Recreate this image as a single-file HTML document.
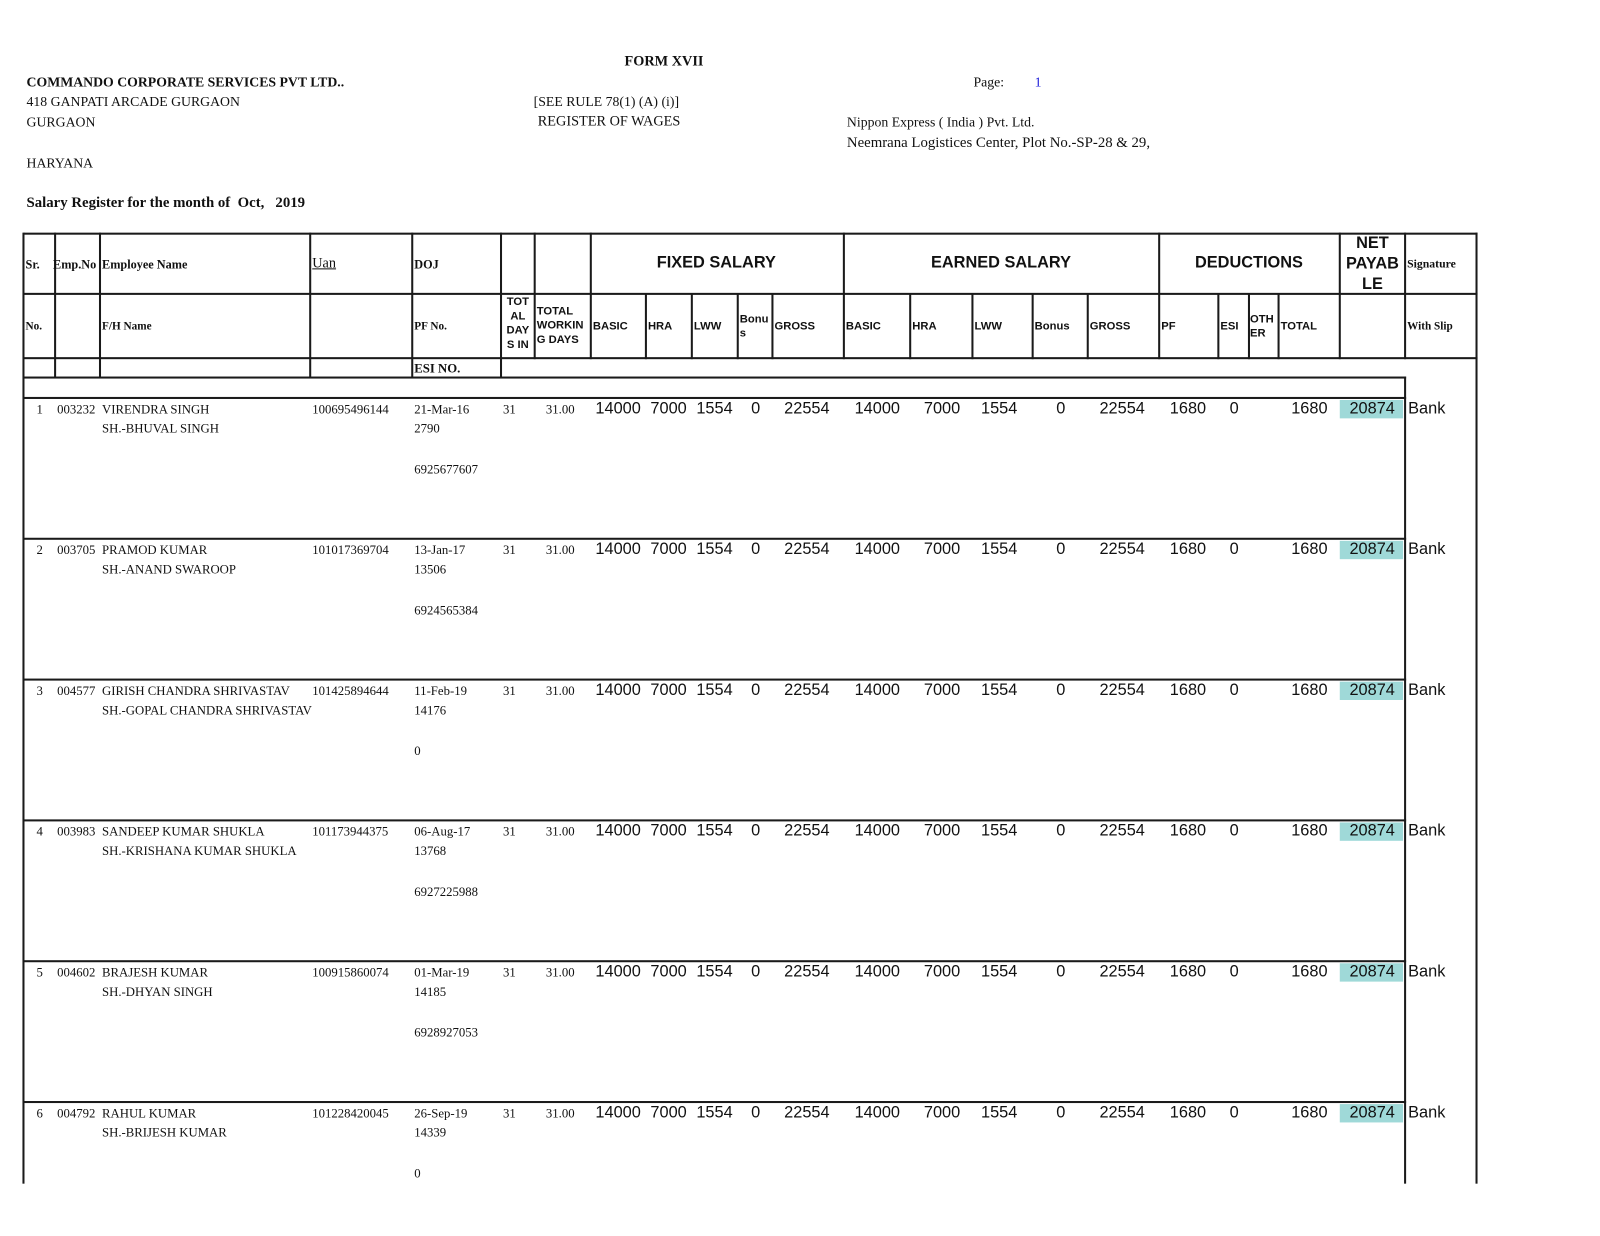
<!DOCTYPE html>
<html><head><meta charset="utf-8"><style>
body{margin:0;background:#fff;}
#o{position:relative;width:1600px;height:1236px;overflow:hidden;background:#fff;}
#p{position:absolute;left:0;top:0;width:1600px;height:1236px;transform:scale(1.0204);transform-origin:0 0;font-family:"Liberation Serif",serif;color:#111;}
#p div{position:absolute;}
.t{font-size:13.5px;line-height:18px;white-space:nowrap;}
.b{font-weight:bold;}
.h{font-family:"Liberation Sans",sans-serif;font-weight:bold;font-size:11px;line-height:14px;white-space:nowrap;}
.H{font-family:"Liberation Sans",sans-serif;font-weight:bold;font-size:16px;line-height:20px;white-space:nowrap;text-align:center;}
.hl{background:#1a1a1a;height:2px;}
.vl{background:#1a1a1a;width:2px;}
.n{font-family:"Liberation Sans",sans-serif;font-size:16px;line-height:18px;white-space:nowrap;text-align:right;}
.sm{font-size:12.5px;line-height:18px;white-space:nowrap;}
</style></head><body><div id="o"><div id="p">
<div class="t b" style="left:612px;top:52px;font-size:14px">FORM XVII</div>
<div class="t b" style="left:26px;top:72px">COMMANDO CORPORATE SERVICES PVT LTD..</div>
<div class="t" style="left:954px;top:72px">Page:</div>
<div class="t" style="left:1014px;top:72px;color:#1a1ad8">1</div>
<div class="t" style="left:26px;top:91px">418 GANPATI ARCADE GURGAON</div>
<div class="t" style="left:523px;top:91px">[SEE RULE 78(1) (A) (i)]</div>
<div class="t" style="left:26px;top:111px">GURGAON</div>
<div class="t" style="left:527px;top:111px;font-size:14px">REGISTER OF WAGES</div>
<div class="t" style="left:830px;top:111px">Nippon Express ( India ) Pvt. Ltd.</div>
<div class="t" style="left:830px;top:131px;font-size:14.5px">Neemrana Logistices Center, Plot No.-SP-28 &amp; 29,</div>
<div class="t" style="left:26px;top:151px">HARYANA</div>
<div class="t b" style="left:26px;top:190px;font-size:14.5px">Salary Register for the month of&nbsp; Oct,&nbsp;&nbsp; 2019</div>

<div class="hl" style="left:23px;top:228px;width:1425px"></div>
<div class="hl" style="left:23px;top:287px;width:1425px"></div>
<div class="hl" style="left:23px;top:350px;width:1425px"></div>
<div class="hl" style="left:23px;top:369px;width:1355px"></div>
<div class="hl" style="left:23px;top:389px;width:1355px"></div>
<div class="vl" style="left:22px;top:228px;height:932px"></div>
<div class="vl" style="left:1446px;top:228px;height:932px"></div>
<div class="vl" style="left:1376px;top:228px;height:124px"></div>
<div class="vl" style="left:1376px;top:369px;height:791px"></div>
<div class="vl" style="left:53px;top:228px;height:142px"></div>
<div class="vl" style="left:97px;top:228px;height:142px"></div>
<div class="vl" style="left:303px;top:228px;height:142px"></div>
<div class="vl" style="left:403px;top:228px;height:142px"></div>
<div class="vl" style="left:490px;top:228px;height:142px"></div>
<div class="vl" style="left:523px;top:228px;height:124px"></div>
<div class="vl" style="left:578px;top:228px;height:124px"></div>
<div class="vl" style="left:826px;top:228px;height:124px"></div>
<div class="vl" style="left:1135px;top:228px;height:124px"></div>
<div class="vl" style="left:1312px;top:228px;height:124px"></div>
<div class="vl" style="left:632px;top:288px;height:64px"></div>
<div class="vl" style="left:677px;top:288px;height:64px"></div>
<div class="vl" style="left:722px;top:288px;height:64px"></div>
<div class="vl" style="left:756px;top:288px;height:64px"></div>
<div class="vl" style="left:891px;top:288px;height:64px"></div>
<div class="vl" style="left:952px;top:288px;height:64px"></div>
<div class="vl" style="left:1011px;top:288px;height:64px"></div>
<div class="vl" style="left:1065px;top:288px;height:64px"></div>
<div class="vl" style="left:1193px;top:288px;height:64px"></div>
<div class="vl" style="left:1223px;top:288px;height:64px"></div>
<div class="vl" style="left:1252px;top:288px;height:64px"></div>

<div class="t b" style="left:25px;top:250px;font-size:12px">Sr.</div>
<div class="t b" style="left:52px;top:250px;font-size:12px">Emp.No</div>
<div class="t b" style="left:100px;top:250px;font-size:12px">Employee Name</div>
<div class="t" style="left:306px;top:250px;font-size:14px;text-decoration:underline">Uan</div>
<div class="t b" style="left:406px;top:250px;font-size:12px">DOJ</div>
<div class="H" style="left:578px;top:248px;width:248px">FIXED SALARY</div>
<div class="H" style="left:826px;top:248px;width:310px">EARNED SALARY</div>
<div class="H" style="left:1135px;top:248px;width:178px">DEDUCTIONS</div>
<div class="H" style="left:1312px;top:229px;width:66px;line-height:20px">NET<br>PAYAB<br>LE</div>
<div class="t b" style="left:1379px;top:250px;font-size:11.5px">Signature</div>

<div class="t b" style="left:25px;top:311px;font-size:11px">No.</div>
<div class="t b" style="left:100px;top:311px;font-size:11px">F/H Name</div>
<div class="t b" style="left:406px;top:311px;font-size:11px">PF No.</div>
<div class="h" style="left:492px;top:289px;width:31px;text-align:center">TOT<br>AL<br>DAY<br>S IN</div>
<div class="h" style="left:526px;top:298px">TOTAL<br>WORKIN<br>G DAYS</div>
<div class="h" style="left:581px;top:313px">BASIC</div>
<div class="h" style="left:635px;top:313px">HRA</div>
<div class="h" style="left:680px;top:313px">LWW</div>
<div class="h" style="left:725px;top:306px">Bonu<br>s</div>
<div class="h" style="left:759px;top:313px">GROSS</div>
<div class="h" style="left:829px;top:313px">BASIC</div>
<div class="h" style="left:894px;top:313px">HRA</div>
<div class="h" style="left:955px;top:313px">LWW</div>
<div class="h" style="left:1014px;top:313px">Bonus</div>
<div class="h" style="left:1068px;top:313px">GROSS</div>
<div class="h" style="left:1138px;top:313px">PF</div>
<div class="h" style="left:1196px;top:313px">ESI</div>
<div class="h" style="left:1225px;top:306px">OTH<br>ER</div>
<div class="h" style="left:1255px;top:313px">TOTAL</div>
<div class="t b" style="left:1379px;top:311px;font-size:11px">With Slip</div>
<div class="t b" style="left:406px;top:352px;font-size:12.5px">ESI NO.</div>

<div class="hl" style="left:23px;top:527px;width:1355px"></div>
<div class="hl" style="left:23px;top:665px;width:1355px"></div>
<div class="hl" style="left:23px;top:803px;width:1355px"></div>
<div class="hl" style="left:23px;top:941px;width:1355px"></div>
<div class="hl" style="left:23px;top:1079px;width:1355px"></div>

<!-- ROW 1 -->
<div class="sm" style="right:1558px;top:392px">1</div>
<div class="sm" style="left:56px;top:392px">003232</div>
<div class="sm" style="left:100px;top:392px">VIRENDRA SINGH</div>
<div class="sm" style="left:100px;top:411px">SH.-BHUVAL SINGH</div>
<div class="sm" style="left:306px;top:392px">100695496144</div>
<div class="sm" style="left:406px;top:392px">21-Mar-16</div>
<div class="sm" style="left:406px;top:411px">2790</div>
<div class="sm" style="left:406px;top:451px">6925677607</div>
<div class="sm" style="left:493px;top:392px">31</div>
<div class="sm" style="left:535px;top:392px">31.00</div>
<div style="left:1313px;top:392px;width:62px;height:18px;background:#9fd9d8"></div>
<div class="n" style="left:560px;top:392px;width:68px">14000</div>
<div class="n" style="left:620px;top:392px;width:53px">7000</div>
<div class="n" style="left:670px;top:392px;width:48px">1554</div>
<div class="n" style="left:725px;top:392px;width:20px">0</div>
<div class="n" style="left:760px;top:392px;width:53px">22554</div>
<div class="n" style="left:830px;top:392px;width:52px">14000</div>
<div class="n" style="left:890px;top:392px;width:51px">7000</div>
<div class="n" style="left:950px;top:392px;width:47px">1554</div>
<div class="n" style="left:1020px;top:392px;width:24px">0</div>
<div class="n" style="left:1070px;top:392px;width:52px">22554</div>
<div class="n" style="left:1140px;top:392px;width:42px">1680</div>
<div class="n" style="left:1195px;top:392px;width:19px">0</div>
<div class="n" style="left:1255px;top:392px;width:46px">1680</div>
<div class="n" style="left:1313px;top:392px;width:54px">20874</div>
<div class="n" style="left:1380px;top:392px;text-align:left">Bank</div>

<!-- ROW 2 -->
<div class="sm" style="right:1558px;top:530px">2</div>
<div class="sm" style="left:56px;top:530px">003705</div>
<div class="sm" style="left:100px;top:530px">PRAMOD KUMAR</div>
<div class="sm" style="left:100px;top:549px">SH.-ANAND SWAROOP</div>
<div class="sm" style="left:306px;top:530px">101017369704</div>
<div class="sm" style="left:406px;top:530px">13-Jan-17</div>
<div class="sm" style="left:406px;top:549px">13506</div>
<div class="sm" style="left:406px;top:589px">6924565384</div>
<div class="sm" style="left:493px;top:530px">31</div>
<div class="sm" style="left:535px;top:530px">31.00</div>
<div style="left:1313px;top:530px;width:62px;height:18px;background:#9fd9d8"></div>
<div class="n" style="left:560px;top:530px;width:68px">14000</div>
<div class="n" style="left:620px;top:530px;width:53px">7000</div>
<div class="n" style="left:670px;top:530px;width:48px">1554</div>
<div class="n" style="left:725px;top:530px;width:20px">0</div>
<div class="n" style="left:760px;top:530px;width:53px">22554</div>
<div class="n" style="left:830px;top:530px;width:52px">14000</div>
<div class="n" style="left:890px;top:530px;width:51px">7000</div>
<div class="n" style="left:950px;top:530px;width:47px">1554</div>
<div class="n" style="left:1020px;top:530px;width:24px">0</div>
<div class="n" style="left:1070px;top:530px;width:52px">22554</div>
<div class="n" style="left:1140px;top:530px;width:42px">1680</div>
<div class="n" style="left:1195px;top:530px;width:19px">0</div>
<div class="n" style="left:1255px;top:530px;width:46px">1680</div>
<div class="n" style="left:1313px;top:530px;width:54px">20874</div>
<div class="n" style="left:1380px;top:530px;text-align:left">Bank</div>

<!-- ROW 3 -->
<div class="sm" style="right:1558px;top:668px">3</div>
<div class="sm" style="left:56px;top:668px">004577</div>
<div class="sm" style="left:100px;top:668px">GIRISH CHANDRA SHRIVASTAV</div>
<div class="sm" style="left:100px;top:687px">SH.-GOPAL CHANDRA SHRIVASTAV</div>
<div class="sm" style="left:306px;top:668px">101425894644</div>
<div class="sm" style="left:406px;top:668px">11-Feb-19</div>
<div class="sm" style="left:406px;top:687px">14176</div>
<div class="sm" style="left:406px;top:727px">0</div>
<div class="sm" style="left:493px;top:668px">31</div>
<div class="sm" style="left:535px;top:668px">31.00</div>
<div style="left:1313px;top:668px;width:62px;height:18px;background:#9fd9d8"></div>
<div class="n" style="left:560px;top:668px;width:68px">14000</div>
<div class="n" style="left:620px;top:668px;width:53px">7000</div>
<div class="n" style="left:670px;top:668px;width:48px">1554</div>
<div class="n" style="left:725px;top:668px;width:20px">0</div>
<div class="n" style="left:760px;top:668px;width:53px">22554</div>
<div class="n" style="left:830px;top:668px;width:52px">14000</div>
<div class="n" style="left:890px;top:668px;width:51px">7000</div>
<div class="n" style="left:950px;top:668px;width:47px">1554</div>
<div class="n" style="left:1020px;top:668px;width:24px">0</div>
<div class="n" style="left:1070px;top:668px;width:52px">22554</div>
<div class="n" style="left:1140px;top:668px;width:42px">1680</div>
<div class="n" style="left:1195px;top:668px;width:19px">0</div>
<div class="n" style="left:1255px;top:668px;width:46px">1680</div>
<div class="n" style="left:1313px;top:668px;width:54px">20874</div>
<div class="n" style="left:1380px;top:668px;text-align:left">Bank</div>

<!-- ROW 4 -->
<div class="sm" style="right:1558px;top:806px">4</div>
<div class="sm" style="left:56px;top:806px">003983</div>
<div class="sm" style="left:100px;top:806px">SANDEEP KUMAR SHUKLA</div>
<div class="sm" style="left:100px;top:825px">SH.-KRISHANA KUMAR SHUKLA</div>
<div class="sm" style="left:306px;top:806px">101173944375</div>
<div class="sm" style="left:406px;top:806px">06-Aug-17</div>
<div class="sm" style="left:406px;top:825px">13768</div>
<div class="sm" style="left:406px;top:865px">6927225988</div>
<div class="sm" style="left:493px;top:806px">31</div>
<div class="sm" style="left:535px;top:806px">31.00</div>
<div style="left:1313px;top:806px;width:62px;height:18px;background:#9fd9d8"></div>
<div class="n" style="left:560px;top:806px;width:68px">14000</div>
<div class="n" style="left:620px;top:806px;width:53px">7000</div>
<div class="n" style="left:670px;top:806px;width:48px">1554</div>
<div class="n" style="left:725px;top:806px;width:20px">0</div>
<div class="n" style="left:760px;top:806px;width:53px">22554</div>
<div class="n" style="left:830px;top:806px;width:52px">14000</div>
<div class="n" style="left:890px;top:806px;width:51px">7000</div>
<div class="n" style="left:950px;top:806px;width:47px">1554</div>
<div class="n" style="left:1020px;top:806px;width:24px">0</div>
<div class="n" style="left:1070px;top:806px;width:52px">22554</div>
<div class="n" style="left:1140px;top:806px;width:42px">1680</div>
<div class="n" style="left:1195px;top:806px;width:19px">0</div>
<div class="n" style="left:1255px;top:806px;width:46px">1680</div>
<div class="n" style="left:1313px;top:806px;width:54px">20874</div>
<div class="n" style="left:1380px;top:806px;text-align:left">Bank</div>

<!-- ROW 5 -->
<div class="sm" style="right:1558px;top:944px">5</div>
<div class="sm" style="left:56px;top:944px">004602</div>
<div class="sm" style="left:100px;top:944px">BRAJESH KUMAR</div>
<div class="sm" style="left:100px;top:963px">SH.-DHYAN SINGH</div>
<div class="sm" style="left:306px;top:944px">100915860074</div>
<div class="sm" style="left:406px;top:944px">01-Mar-19</div>
<div class="sm" style="left:406px;top:963px">14185</div>
<div class="sm" style="left:406px;top:1003px">6928927053</div>
<div class="sm" style="left:493px;top:944px">31</div>
<div class="sm" style="left:535px;top:944px">31.00</div>
<div style="left:1313px;top:944px;width:62px;height:18px;background:#9fd9d8"></div>
<div class="n" style="left:560px;top:944px;width:68px">14000</div>
<div class="n" style="left:620px;top:944px;width:53px">7000</div>
<div class="n" style="left:670px;top:944px;width:48px">1554</div>
<div class="n" style="left:725px;top:944px;width:20px">0</div>
<div class="n" style="left:760px;top:944px;width:53px">22554</div>
<div class="n" style="left:830px;top:944px;width:52px">14000</div>
<div class="n" style="left:890px;top:944px;width:51px">7000</div>
<div class="n" style="left:950px;top:944px;width:47px">1554</div>
<div class="n" style="left:1020px;top:944px;width:24px">0</div>
<div class="n" style="left:1070px;top:944px;width:52px">22554</div>
<div class="n" style="left:1140px;top:944px;width:42px">1680</div>
<div class="n" style="left:1195px;top:944px;width:19px">0</div>
<div class="n" style="left:1255px;top:944px;width:46px">1680</div>
<div class="n" style="left:1313px;top:944px;width:54px">20874</div>
<div class="n" style="left:1380px;top:944px;text-align:left">Bank</div>

<!-- ROW 6 -->
<div class="sm" style="right:1558px;top:1082px">6</div>
<div class="sm" style="left:56px;top:1082px">004792</div>
<div class="sm" style="left:100px;top:1082px">RAHUL KUMAR</div>
<div class="sm" style="left:100px;top:1101px">SH.-BRIJESH KUMAR</div>
<div class="sm" style="left:306px;top:1082px">101228420045</div>
<div class="sm" style="left:406px;top:1082px">26-Sep-19</div>
<div class="sm" style="left:406px;top:1101px">14339</div>
<div class="sm" style="left:406px;top:1141px">0</div>
<div class="sm" style="left:493px;top:1082px">31</div>
<div class="sm" style="left:535px;top:1082px">31.00</div>
<div style="left:1313px;top:1082px;width:62px;height:18px;background:#9fd9d8"></div>
<div class="n" style="left:560px;top:1082px;width:68px">14000</div>
<div class="n" style="left:620px;top:1082px;width:53px">7000</div>
<div class="n" style="left:670px;top:1082px;width:48px">1554</div>
<div class="n" style="left:725px;top:1082px;width:20px">0</div>
<div class="n" style="left:760px;top:1082px;width:53px">22554</div>
<div class="n" style="left:830px;top:1082px;width:52px">14000</div>
<div class="n" style="left:890px;top:1082px;width:51px">7000</div>
<div class="n" style="left:950px;top:1082px;width:47px">1554</div>
<div class="n" style="left:1020px;top:1082px;width:24px">0</div>
<div class="n" style="left:1070px;top:1082px;width:52px">22554</div>
<div class="n" style="left:1140px;top:1082px;width:42px">1680</div>
<div class="n" style="left:1195px;top:1082px;width:19px">0</div>
<div class="n" style="left:1255px;top:1082px;width:46px">1680</div>
<div class="n" style="left:1313px;top:1082px;width:54px">20874</div>
<div class="n" style="left:1380px;top:1082px;text-align:left">Bank</div>
</div></div></body></html>
